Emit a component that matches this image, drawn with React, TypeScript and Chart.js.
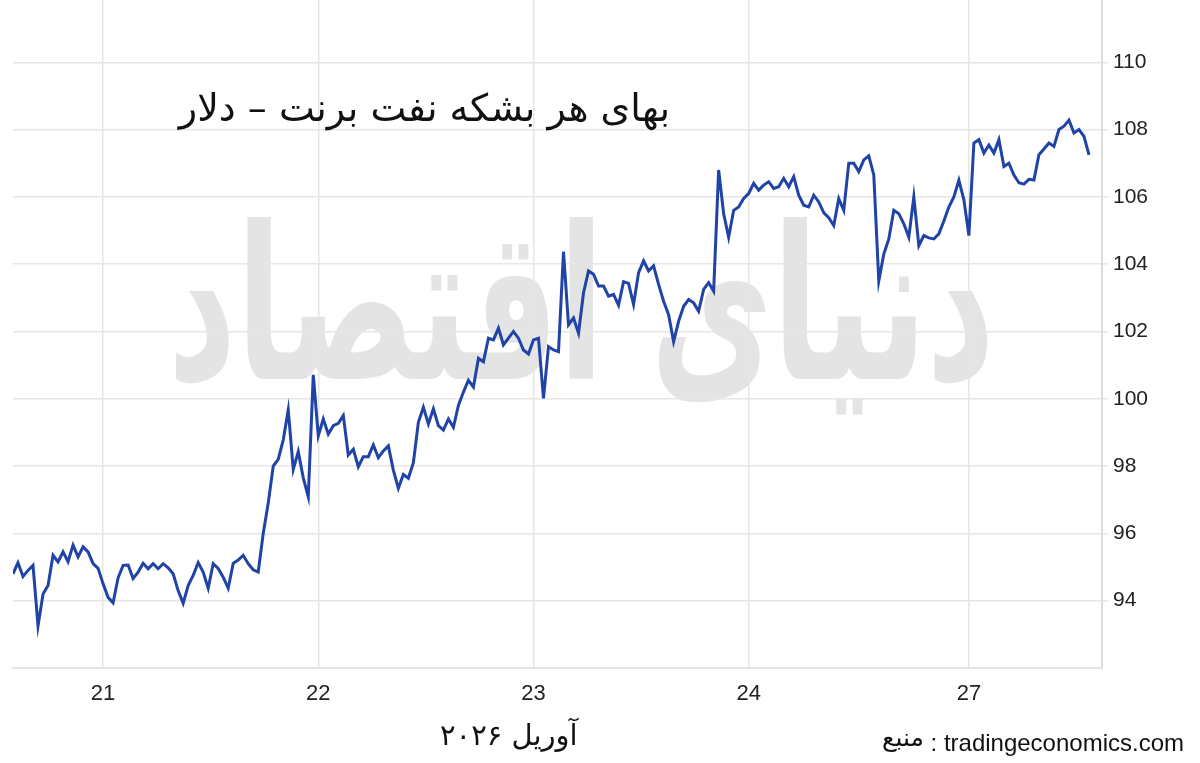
import { useEffect, useRef } from 'react';
import { Chart, registerables } from 'chart.js';

Chart.register(...registerables);

// Brent price samples per trading session (USD per barrel)
const apr20 = [
  94.8, 95.13, 94.72, 94.9, 95.05, 93.25, 94.2, 94.45, 95.35, 95.15,
  95.45, 95.16, 95.65, 95.3, 95.6, 95.45, 95.1, 94.96,
];
const apr21 = [
  94.5, 94.1, 93.94, 94.68, 95.05, 95.06, 94.66, 94.85, 95.11, 94.95,
  95.1, 94.95, 95.1, 94.98, 94.8, 94.3, 93.92, 94.45, 94.75, 95.13,
  94.85, 94.37, 95.1, 94.96, 94.7, 94.37, 95.11, 95.21, 95.35, 95.1,
  94.92, 94.85, 96.0, 96.9, 98.0, 98.2, 98.78, 99.67, 97.9, 98.43,
  97.65, 97.09, 100.71,
];
const apr22 = [
  98.9, 99.4, 98.95, 99.2, 99.27, 99.5, 98.33, 98.5, 97.98, 98.28,
  98.28, 98.63, 98.25, 98.45, 98.6, 97.88, 97.34, 97.75, 97.64, 98.1,
  99.3, 99.75, 99.25, 99.7, 99.2, 99.07, 99.4, 99.15, 99.8, 100.2,
  100.55, 100.35, 101.2, 101.1, 101.8, 101.75, 102.1, 101.6, 101.8, 102.0,
  101.8, 101.45, 101.33,
];
const apr23 = [
  101.75, 101.8, 100.01, 101.55, 101.45, 101.4, 104.37, 102.2, 102.4, 101.95,
  103.15, 103.8, 103.7, 103.35, 103.35, 103.05, 103.1, 102.78, 103.48, 103.43,
  102.8, 103.75, 104.1, 103.8, 103.95, 103.4, 102.9, 102.5, 101.7, 102.3,
  102.75, 102.95, 102.85, 102.6, 103.25, 103.45, 103.2, 106.8, 105.5, 104.8,
  105.6, 105.7, 105.95,
];
const apr24 = [
  106.1, 106.4, 106.2, 106.35, 106.45, 106.25, 106.3, 106.55, 106.3, 106.6,
  106.05, 105.75, 105.7, 106.05, 105.85, 105.53, 105.38, 105.15, 105.95, 105.6,
  107.0, 107.0, 106.75, 107.1, 107.22, 106.65, 103.5, 104.3, 104.75, 105.6,
  105.5, 105.2, 104.8, 106.0, 104.55, 104.85, 104.78, 104.75, 104.9, 105.28,
  105.7, 106.0, 106.5, 105.91,
];
const apr27 = [
  104.85, 107.6, 107.7, 107.3, 107.54, 107.3, 107.7, 106.9, 107.0, 106.65,
  106.42, 106.38, 106.52, 106.5, 107.25, 107.42, 107.6, 107.5, 108.0, 108.1,
  108.28, 107.9, 108.0, 107.8, 107.25,
];

const sessions = [apr20, apr21, apr22, apr23, apr24, apr27];
const sessionLabels = ['', '21', '22', '23', '24', '27'];
const yTicks = [94, 96, 98, 100, 102, 104, 106, 108, 110];

const title = 'بهای هر بشکه نفت برنت – دلار';
const monthLabel = 'آوریل ۲۰۲۶';
const sourceLabel = 'منبع';
const sourceSite = ': tradingeconomics.com';
const watermark = 'دنیای اقتصاد';

const prices = sessions.flat();
const sessionStarts: number[] = [];
sessions.reduce((start, s) => {
  sessionStarts.push(start);
  return start + s.length;
}, 0);

const xTicks = sessionStarts.slice(1);
const xLabelFor = (v: number) => sessionLabels[sessionStarts.indexOf(v)] ?? '';

const persian = "'DejaVu Sans', sans-serif";
const latin = "'Liberation Sans', Arial, sans-serif";

export default function App() {
  const chartRef = useRef<HTMLCanvasElement>(null);
  const chartInstance = useRef<Chart | null>(null);

  useEffect(() => {
    document.body.style.margin = '0';
    if (!chartRef.current) return;
    if (chartInstance.current) chartInstance.current.destroy();

    const ctx = chartRef.current.getContext('2d');
    if (!ctx) return;

    chartInstance.current = new Chart(ctx, {
      type: 'line',
      data: {
        datasets: [
          {
            data: prices.map((y, i) => ({ x: i, y })),
            borderColor: '#1f43a6',
            borderWidth: 3,
            pointRadius: 0,
            tension: 0,
            fill: false,
          },
        ],
      },
      options: {
        animation: false,
        responsive: false,
        maintainAspectRatio: false,
        layout: { padding: { left: 13, top: 0, right: 0, bottom: 0 } },
        plugins: {
          legend: { display: false },
          tooltip: { enabled: false },
        },
        scales: {
          x: {
            type: 'linear',
            min: 0,
            max: prices.length + 1.6,
            afterBuildTicks: (scale: any) => {
              scale.ticks = xTicks.map((value) => ({ value }));
            },
            afterFit: (scale: any) => {
              scale.height = 95;
              scale.paddingLeft = 0;
              scale.paddingRight = 0;
            },
            grid: { color: '#e6e6e6', lineWidth: 1.5, drawTicks: false },
            border: { display: true, color: '#e6e6e6', width: 2 },
            ticks: {
              autoSkip: false,
              maxRotation: 0,
              padding: 13,
              color: '#222',
              font: { family: latin, size: 22 },
              callback: (value: any) => xLabelFor(Number(value)),
            },
          },
          y: {
            position: 'right',
            min: 92,
            max: 111.85,
            afterBuildTicks: (scale: any) => {
              scale.ticks = yTicks.map((value) => ({ value }));
            },
            afterFit: (scale: any) => {
              scale.width = 98;
              scale.paddingTop = 0;
              scale.paddingBottom = 0;
            },
            grid: { color: '#e6e6e6', lineWidth: 1.5, tickLength: 6 },
            border: { display: true, color: '#dcdcdc', width: 2 },
            ticks: {
              padding: 5,
              color: '#222',
              font: { family: latin, size: 21 },
            },
          },
        },
      },
    });

    return () => {
      if (chartInstance.current) {
        chartInstance.current.destroy();
        chartInstance.current = null;
      }
    };
  }, []);

  return (
    <div style={{ position: 'relative', width: 1200, height: 763, background: '#fff', overflow: 'hidden' }}>
      <div
        dir="rtl"
        style={{
          position: 'absolute',
          left: 168,
          top: 200,
          fontFamily: persian,
          fontSize: 133,
          fontWeight: 'bold',
          color: '#e4e4e4',
          whiteSpace: 'nowrap',
          lineHeight: 1,
          transform: 'scaleY(1.6)',
          transformOrigin: 'top left',
        }}
      >
        {watermark}
      </div>
      <canvas
        ref={chartRef}
        width={1200}
        height={763}
        style={{ position: 'absolute', left: 0, top: 0, width: 1200, height: 763 }}
      />
      <div
        dir="rtl"
        style={{
          position: 'absolute',
          right: 530,
          top: 86,
          fontFamily: persian,
          fontSize: 38,
          color: '#111',
          whiteSpace: 'nowrap',
          lineHeight: 1.2,
        }}
      >
        {title}
      </div>
      <div
        dir="rtl"
        style={{
          position: 'absolute',
          left: 440,
          top: 718,
          fontFamily: persian,
          fontSize: 29,
          color: '#111',
          whiteSpace: 'nowrap',
          lineHeight: 1.2,
        }}
      >
        {monthLabel}
      </div>
      <div
        dir="ltr"
        style={{
          position: 'absolute',
          right: 16,
          top: 728,
          color: '#111',
          whiteSpace: 'nowrap',
          lineHeight: 1.2,
        }}
      >
        <span style={{ fontFamily: persian, fontSize: 25, position: 'relative', top: -5 }}>{sourceLabel}</span>
        <span style={{ fontFamily: latin, fontSize: 24 }}> {sourceSite}</span>
      </div>
    </div>
  );
}
